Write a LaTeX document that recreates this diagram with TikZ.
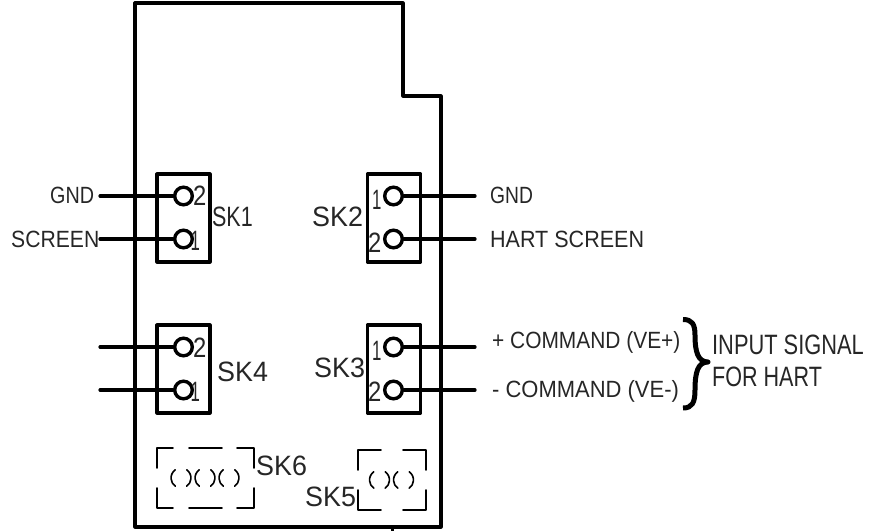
\documentclass[tikz,border=0pt]{standalone}
\usepackage{fontspec}
\setmainfont{Liberation Sans}
\tikzset{
 outline/.style={line width=3.2pt,line join=round,line cap=round},
 sockbox/.style={draw,line width=3.2pt,rectangle,minimum width=53pt,minimum height=88pt,inner sep=0pt,line join=round},
 pin/.style={draw,circle,line width=3.4pt,minimum size=17.6pt,inner sep=0pt},
 lead/.style={line width=3.2pt,line cap=round},
 thin part/.style={line width=1.6pt,line cap=round,line join=round},
 lab/.style={inner sep=0pt,anchor=west,font=\fontsize{23.5}{23.5}\selectfont,text=black!85},
 big/.style={lab,font=\fontsize{28}{28}\selectfont},
 sk/.style={lab,font=\fontsize{28}{28}\selectfont,xscale=.96},
 num/.style={lab,font=\fontsize{28}{28}\selectfont,xscale=.85},
 one/.style={lab,font=\fontsize{28}{28}\selectfont,xscale=.6},
 small/.style={lab,font=\fontsize{23.5}{23.5}\selectfont},
}
\begin{document}
\begin{tikzpicture}[x=1pt,y=-1pt]
\useasboundingbox (0,0) rectangle (871,531);
\draw[outline] (135,3) -- (403,3) -- (403,96) -- (441,96) -- (441,527) -- (135,527) -- cycle;
\coordinate (tick) at (392,527);
\coordinate (tickend) at (392,531);
\draw[line width=3pt] (tick) -- (tickend);
% sockets
\node[sockbox] (b1) at (183.5,218) {};
\node[sockbox] (b2) at (394,218) {};
\node[sockbox] (b3) at (394,369) {};
\node[sockbox] (b4) at (183.5,369) {};
\coordinate (l11) at (100,196);
\coordinate (l12) at (100,239);
\coordinate (l21) at (475,196);
\coordinate (l22) at (475,239);
\coordinate (l31) at (475,347);
\coordinate (l32) at (475,390);
\coordinate (l41) at (100,347);
\coordinate (l42) at (100,390);
\node[pin] (p11) at (183.5,196) {};
\node[pin] (p12) at (183.5,239) {};
\node[pin] (p21) at (393.5,196) {};
\node[pin] (p22) at (393.5,239) {};
\node[pin] (p31) at (393.5,347) {};
\node[pin] (p32) at (393.5,390) {};
\node[pin] (p41) at (183.5,347) {};
\node[pin] (p42) at (183.5,390) {};
\draw[lead] (l11) -- (p11);
\draw[lead] (l12) -- (p12);
\draw[lead] (l21) -- (p21);
\draw[lead] (l22) -- (p22);
\draw[lead] (l31) -- (p31);
\draw[lead] (l32) -- (p32);
\draw[lead] (l41) -- (p41);
\draw[lead] (l42) -- (p42);
% labels
\node[lab,xscale=.84] (t1) at (50,195) {GND};
\node[lab,xscale=.90] (t2) at (11,239) {SCREEN};
\node[lab,xscale=.82] (t3) at (490,195) {GND};
\node[lab,xscale=.916] (t4) at (490,239) {HART SCREEN};
\node[small,xscale=.89] (t5) at (492,342) {+ COMMAND (VE+)};
\node[small,xscale=.935] (t6) at (492,391) {- COMMAND (VE-)};
\node[big,xscale=.78] (t7) at (712,345) {INPUT SIGNAL};
\node[big,xscale=.77] (t8) at (712,377) {FOR HART};
\node[sk,xscale=.8] (s1) at (212,217) {SK1};
\node[sk] (s2) at (312,217) {SK2};
\node[sk] (s3) at (314,368) {SK3};
\node[sk] (s4) at (217,372) {SK4};
\node[sk] (s6) at (256,465.5) {SK6};
\node[sk] (s5) at (305,496.5) {SK5};
\node[num] (n1) at (193,196) {2};
\node[one] (n2) at (190.5,241) {1};
\node[num] (n3) at (193,348) {2};
\node[one] (n4) at (190.5,392) {1};
\node[one] (n5) at (372,200) {1};
\node[num] (n6) at (368,243) {2};
\node[one] (n7) at (372,351) {1};
\node[num] (n8) at (368,392) {2};
% brace
\coordinate (bt) at (683,319.5);
\coordinate (bm) at (708,362);
\coordinate (bb) at (683,408);
\draw[line width=5pt,line join=round] (bt) .. controls (692,319.5) and (695,324) .. (695,335) .. controls (695,352) and (698,362) .. (bm) .. controls (698,362) and (695,372) .. (695,390) .. controls (695,403) and (692,408) .. (bb);
% SK6 dashed outline
\draw[thin part] (173,448) -- (157,448) -- (157,468);
\draw[thin part] (189,448) -- (222,448);
\draw[thin part] (237,448) -- (254,448) -- (254,468);
\draw[thin part] (157,488) -- (157,508) -- (173,508);
\draw[thin part] (189,508) -- (222,508);
\draw[thin part] (237,508) -- (254,508) -- (254,488);
% SK5 dashed outline
\draw[thin part] (381,450) -- (358,450) -- (358,470);
\draw[thin part] (403,450) -- (426,450) -- (426,470);
\draw[thin part] (358,490) -- (358,510) -- (381,510);
\draw[thin part] (403,510) -- (426,510) -- (426,490);
% dashed circles
\foreach \cx/\cy in {181/478,205/478,229/478,379.5/480,403.5/480}{
 \draw[thin part] (\cx-5.7,\cy-8.2) arc[start angle=125,end angle=235,radius=10pt];
 \draw[thin part] (\cx+5.7,\cy-8.2) arc[start angle=55,end angle=-55,radius=10pt];
}
\end{tikzpicture}
\end{document}
